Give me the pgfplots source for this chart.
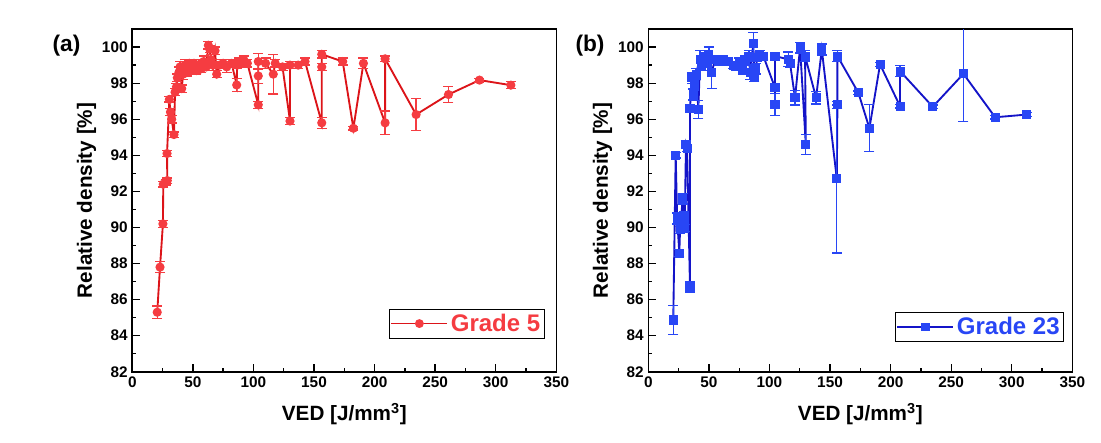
\documentclass[border=0pt]{standalone}
\usepackage{fontspec}
\setmainfont{Liberation Sans}
\usepackage{pgfplots}
\pgfplotsset{compat=1.18}
\usepackage{pgfplotstable}

\definecolor{rline}{RGB}{220,20,25}
\definecolor{rmark}{RGB}{245,60,65}
\definecolor{bline}{RGB}{20,20,200}
\definecolor{bmark}{RGB}{40,70,245}

\pgfplotstableread{
x y e
20.6 85.3 0.35
22.9 87.8 0.3
25.3 90.2 0.2
25.6 92.4 0.15
27.5 92.5 0.15
28.9 92.6 0.15
28.7 94.1 0.15
30.6 97.1 0.15
31.5 96.4 0.2
32.5 96.0 0.2
34.4 95.15 0.15
35.3 97.5 0.2
36.5 97.8 0.2
37.2 98.3 0.2
38.5 98.6 0.3
39.4 98.9 0.3
40.8 97.7 0.2
42.0 98.5 0.3
43.5 99.0 0.3
45.0 98.7 0.3
47.0 99.1 0.2
49.0 98.8 0.3
51.0 99.1 0.2
53.0 98.7 0.2
55.0 99.0 0.3
57.0 98.8 0.2
59.0 99.2 0.3
61.0 98.9 0.2
62.8 100.1 0.2
63.8 99.9 0.2
65.0 99.3 0.3
66.5 99.0 0.3
68.3 99.8 0.2
69.7 98.5 0.2
72.0 99.0 0.2
75.0 99.1 0.2
78.0 98.9 0.3
82.0 99.1 0.2
86.2 97.9 0.35
86.5 99.0 0.2
88.0 99.2 0.2
90.5 99.1 0.2
92.0 99.3 0.2
95.0 99.1 0.2
104.0 96.8 0.2
104.0 98.4 0.4
104.0 99.2 0.45
110.0 99.1 0.3
116.4 98.5 1.1
118.0 99.1 0.2
124.0 98.9 0.2
130.2 95.9 0.2
130.2 99.0 0.2
137.0 99.0 0.2
142.6 99.2 0.2
156.4 95.8 0.3
156.4 98.9 0.2
156.4 99.6 0.2
173.7 99.2 0.2
182.5 95.5 0.1
190.8 99.1 0.3
208.7 95.8 0.65
208.7 99.35 0.15
234.3 96.26 0.9
261.0 97.37 0.45
286.6 98.17 0.1
312.5 97.89 0.2
}\gfive

\pgfplotstableread{
x y e
20.6 84.87 0.8
22.6 94.0 0.15
23.8 90.5 0.3
25.6 88.58 0.2
26.2 89.87 0.2
28.4 91.6 0.3
29.5 90.6 0.3
30.0 89.97 0.2
31.1 94.6 0.2
32.0 94.4 0.2
34.4 86.72 0.3
34.4 96.6 0.2
36.0 98.3 0.3
37.2 97.37 0.3
38.0 97.93 0.3
39.5 98.5 0.3
41.3 96.54 0.5
42.7 99.3 0.5
44.0 99.0 0.3
46.0 99.4 0.3
48.0 99.2 0.3
50.0 99.6 0.4
52.4 98.6 0.9
55.0 99.3 0.2
58.0 99.2 0.2
62.0 99.3 0.2
66.0 99.2 0.2
70.0 99.0 0.2
72.0 98.9 0.2
75.0 99.2 0.2
78.0 98.8 0.3
80.0 99.3 0.2
83.0 99.5 0.3
84.0 98.6 0.4
86.7 100.2 0.6
87.5 98.3 0.2
88.5 98.8 0.3
90.0 99.4 0.2
92.0 99.6 0.2
95.0 99.5 0.2
104.6 97.74 0.2
104.6 96.82 0.6
104.6 99.5 0.2
115.6 99.32 0.4
117.0 99.1 0.2
121.1 97.19 0.4
125.3 99.97 0.3
130.0 94.6 0.56
129.4 99.5 0.3
138.5 97.19 0.35
143.2 99.87 0.3
155.6 92.69 4.1
156.1 96.8 0.2
156.1 99.5 0.3
173.4 97.47 0.1
182.5 95.5 1.3
191.3 99.04 0.1
207.8 96.72 0.1
207.8 98.67 0.3
234.8 96.69 0.1
260.1 98.52 2.65
286.3 96.11 0.1
312.5 96.26 0.1
}\gtwothree

\pgfplotsset{myax/.style={
  scale only axis, width=318pt, height=257pt,
  xmin=0, xmax=350, ymin=82, ymax=101,
  xtick={0,50,...,350}, ytick={82,84,...,100},
  minor x tick num=1, minor y tick num=1,
  tick align=inside, xtick pos=bottom, ytick pos=left,
  major tick length=5.5pt, minor tick length=3pt,
  every tick/.style={black, line width=1pt},
  axis line style={line width=1.2pt},
  tick label style={font=\fontsize{11.5}{13}\selectfont\bfseries},
  /pgf/number format/assume math mode=true,
  label style={font=\fontsize{15.5}{18}\selectfont\bfseries},
  xlabel={VED [J/mm\textsuperscript{3}]},
  ylabel={Relative density [\%]},
  xlabel style={at={(axis description cs:0.5,-0.123)}, anchor=center},
  ylabel style={at={(axis description cs:-0.108,0.5)}, anchor=center},
  legend style={draw=black, line width=0.6pt,
    font=\fontsize{18}{20}\selectfont\bfseries,
    inner xsep=1pt, inner ysep=1pt,
    nodes={inner xsep=2pt, inner ysep=2.5pt}},
  legend cell align=left,
  legend image code/.code={\draw[mark repeat=2, mark phase=2, #1, line width=1.2pt]
     plot coordinates {(0pt,0pt) (21pt,0pt) (42pt,0pt)};},
}}

\begin{document}
\begin{tikzpicture}
\useasboundingbox (-99.2pt,-52.7pt) rectangle (726.5pt,278.8pt);
\begin{axis}[myax, at={(0pt,0pt)},
  legend style={at={(0.9725,0.0975)}, anchor=south east},
  extra description/.code={\node[font=\fontsize{17}{20}\selectfont\bfseries] at (-0.155,0.953) {(a)};}]
\addplot[rline, line width=1.4pt, mark=*, mark size=2.7pt,
  mark options={fill=rmark, draw=rmark, solid},
  error bars/.cd, y dir=both, y explicit,
  error bar style={line width=1pt, rmark},
  error mark options={rotate=90, mark size=3.75pt, line width=1pt, rmark}]
  table[x=x, y=y, y error=e] {\gfive};
\addlegendentry{\textcolor{rmark}{Grade 5}}
\end{axis}
\begin{axis}[myax, at={(387pt,0pt)},
  legend style={at={(0.9805,0.0875)}, anchor=south east},
  extra description/.code={\node[font=\fontsize{17}{20}\selectfont\bfseries] at (-0.1375,0.953) {(b)};}]
\addplot[bline, line width=1.4pt, mark=square*, mark size=2.7pt,
  mark options={fill=bmark, draw=bmark, solid},
  error bars/.cd, y dir=both, y explicit,
  error bar style={line width=1pt, bmark},
  error mark options={rotate=90, mark size=3.75pt, line width=1pt, bmark}]
  table[x=x, y=y, y error=e] {\gtwothree};
\addlegendentry{\textcolor{bmark}{Grade 23}}
\end{axis}
\end{tikzpicture}
\end{document}
